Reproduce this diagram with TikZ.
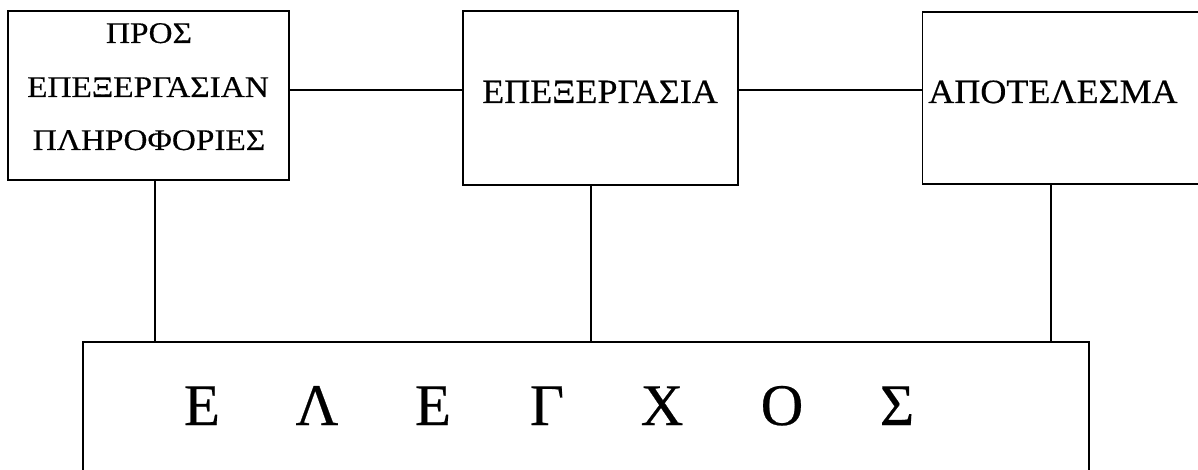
\documentclass[tikz,border=0pt]{standalone}
\usepackage{fontspec}
\setmainfont{Liberation Serif}
\newfontfamily\labelfontA[FakeStretch=1.11,FakeBold=0.4]{Liberation Serif}
\newfontfamily\labelfontB[FakeStretch=1.06,FakeBold=0.4]{Liberation Serif}
\newfontfamily\labelfontC[FakeBold=0.4]{Liberation Serif}
\begin{document}
\begin{tikzpicture}[x=1pt,y=-1pt,
  blockbox/.style={draw,line width=1.8pt,rectangle,inner sep=0pt},
  wire/.style={line width=1.5pt},
  smalltxt/.style={anchor=base,inner sep=0pt,font=\labelfontA\fontsize{30}{30}\selectfont},
  midtxt/.style={anchor=base,inner sep=0pt,font=\labelfontB\fontsize{34}{34}\selectfont},
  bigtxt/.style={anchor=base,inner sep=0pt,font=\labelfontC\fontsize{59}{59}\selectfont}]
\useasboundingbox (0,0) rectangle (1198,470);
\clip (0,0) rectangle (1198,470);

% the three upper blocks and the control block
\node[blockbox,minimum width=281pt,minimum height=169pt] (input) at (148.5,95.5) {};
\node[blockbox,minimum width=275pt,minimum height=174pt] (proc) at (600.5,98) {};
\node[blockbox,minimum width=279pt,minimum height=172pt] (result) at (1062,98) {};
\node[blockbox,minimum width=1006pt,minimum height=133pt] (ctrl) at (586,408.5) {};

% labels
\node[smalltxt] (t1) at (149,43) {ΠΡΟΣ};
\node[smalltxt] (t2) at (148,97) {ΕΠΕΞΕΡΓΑΣΙΑΝ};
\node[smalltxt] (t3) at (149,150) {ΠΛΗΡΟΦΟΡΙΕΣ};
\node[midtxt] (t4) at (600,103) {ΕΠΕΞΕΡΓΑΣΙΑ};
\node[midtxt] (t5) at (1053,103) {ΑΠΟΤΕΛΕΣΜΑ};

\node[bigtxt] (c1) at (202,425) {Ε};
\node[bigtxt] (c2) at (317,425) {Λ};
\node[bigtxt] (c3) at (433,425) {Ε};
\node[bigtxt] (c4) at (547,425) {Γ};
\node[bigtxt] (c5) at (662,425) {Χ};
\node[bigtxt] (c6) at (782,425) {Ο};
\node[bigtxt] (c7) at (897,425) {Σ};

% connectors
\coordinate (row) at (0,90);
\coordinate (v1) at (155,0);
\coordinate (v2) at (591,0);
\coordinate (v3) at (1051,0);
\draw[wire] (input.east |- row) -- (proc.west |- row);
\draw[wire] (proc.east |- row) -- (result.west |- row);
\draw[wire] (input.south -| v1) -- (ctrl.north -| v1);
\draw[wire] (proc.south -| v2) -- (ctrl.north -| v2);
\draw[wire] (result.south -| v3) -- (ctrl.north -| v3);
\end{tikzpicture}
\end{document}
